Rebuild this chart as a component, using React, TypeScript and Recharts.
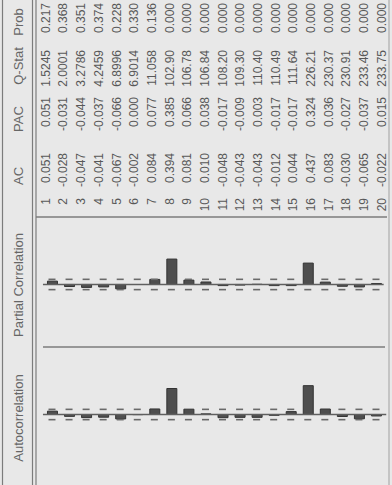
import React from "react";
import { ComposedChart, Bar, Scatter, XAxis, YAxis, ReferenceLine } from "recharts";

const lags = [1, 2, 3, 4, 5, 6, 7, 8, 9, 10, 11, 12, 13, 14, 15, 16, 17, 18, 19, 20];
const acValues = [0.051, -0.028, -0.047, -0.041, -0.067, -0.002, 0.084, 0.394, 0.081, 0.01, -0.048, -0.043, -0.043, -0.012, 0.044, 0.437, 0.083, -0.03, -0.065, -0.022];
const pacValues = [0.051, -0.031, -0.044, -0.037, -0.066, 0.0, 0.077, 0.385, 0.066, 0.038, -0.017, -0.009, 0.003, -0.017, -0.017, 0.324, 0.036, -0.027, -0.037, 0.015];
const qStats = [1.5245, 2.0001, 3.2786, 4.2459, 6.8996, 6.9014, 11.058, 102.9, 106.78, 106.84, 108.2, 109.3, 110.4, 110.49, 111.64, 226.21, 230.37, 230.91, 233.46, 233.75];
const probs = [0.217, 0.368, 0.351, 0.374, 0.228, 0.33, 0.136, 0, 0, 0, 0, 0, 0, 0, 0, 0, 0, 0, 0, 0];
const headers = ["Prob", "Q-Stat", "PAC", "AC", "Partial Correlation", "Autocorrelation"];

// approx 2/sqrt(T) band
const BAND = 0.078;

const rows = lags.map((lag, i) => ({ lag, ac: acValues[i], pac: pacValues[i], up: BAND, lo: -BAND }));

const W = 392;
const H = 485;
const BG = "#e8e8e8";
const TEXT = "#585858";
const LINE = "#7c7c7c";
const BAR = "#4e4e4e";
const FONT = '"Liberation Sans", Arial, sans-serif';

// where each rotated column ends (top edge, text is right aligned)
const colEnd = { lag: 198, ac: 153, pac: 97, q: 50, prob: 3 };
// header centres, same order as headers
const headerY = [22, 66, 119, 176, 285, 418];

function RotText({ x, y, children, anchor = "end", size = 12, fill = TEXT }: any) {
  return (
    <text
      x={x}
      y={y}
      transform={`rotate(-90 ${x} ${y})`}
      textAnchor={anchor}
      fontSize={size}
      fill={fill}
      fontFamily={FONT}
    >
      {children}
    </text>
  );
}

function TableTick(props: any) {
  const { x, payload } = props;
  const i = lags.indexOf(payload.value);
  if (i < 0) return <g />;
  const bx = x + 4.3;
  return (
    <g>
      <RotText x={bx} y={colEnd.lag}>{lags[i]}</RotText>
      <RotText x={bx} y={colEnd.ac}>{acValues[i].toFixed(3)}</RotText>
      <RotText x={bx} y={colEnd.pac}>{pacValues[i].toFixed(3)}</RotText>
      <RotText x={bx} y={colEnd.q}>{qStats[i].toPrecision(5)}</RotText>
      <RotText x={bx} y={colEnd.prob}>{probs[i].toFixed(3)}</RotText>
    </g>
  );
}

// short dash of the confidence band, hidden where the bar covers it
const makeDash = (key: "ac" | "pac", sign: number) => (props: any) => {
  const { cx, cy, payload } = props;
  const v = payload[key];
  if ((sign > 0 && v >= BAND) || (sign < 0 && v <= -BAND)) return <g />;
  return <line x1={cx - 3.5} x2={cx + 3.5} y1={cy} y2={cy} stroke="#6a6a6a" strokeWidth={1.6} />;
};

export default function App() {
  return (
    <div style={{ position: "absolute", left: 0, top: 0, width: W, height: H, background: BG, overflow: "hidden" }}>
      <ComposedChart width={W} height={H} data={rows} margin={{ top: 0, right: 0, bottom: 0, left: 0 }}>
        <XAxis
          xAxisId="table"
          dataKey="lag"
          type="number"
          domain={[1, 20]}
          ticks={lags}
          interval={0}
          orientation="top"
          height={1}
          padding={{ left: 45.5, right: 10.5 }}
          axisLine={false}
          tickLine={false}
          tick={TableTick}
        />
        <XAxis xAxisId="barsA" dataKey="lag" type="number" domain={[1, 20]} padding={{ left: 52, right: 16 }} hide />
        <XAxis xAxisId="barsP" dataKey="lag" type="number" domain={[1, 20]} padding={{ left: 52, right: 16 }} hide />
        <YAxis yAxisId="ac" type="number" domain={[-1.068, 6.265]} allowDataOverflow hide />
        <YAxis yAxisId="pac" type="number" domain={[-3.038, 4.295]} allowDataOverflow hide />

        {/* invisible series so the table axis has something to measure */}
        <Scatter xAxisId="table" yAxisId="pac" dataKey="pac" shape={() => <g />} isAnimationActive={false} />

        <ReferenceLine
          xAxisId="barsA"
          yAxisId="ac"
          segment={[{ x: 0.47, y: 0 }, { x: 20.6, y: 0 }]}
          ifOverflow="visible"
          stroke="#5f5f5f"
          strokeWidth={1.6}
        />
        <ReferenceLine
          xAxisId="barsP"
          yAxisId="pac"
          segment={[{ x: 0.47, y: 0 }, { x: 20.45, y: 0 }]}
          ifOverflow="visible"
          stroke="#5f5f5f"
          strokeWidth={1.6}
        />

        <Scatter xAxisId="barsA" yAxisId="ac" dataKey="up" shape={makeDash("ac", 1)} isAnimationActive={false} />
        <Scatter xAxisId="barsA" yAxisId="ac" dataKey="lo" shape={makeDash("ac", -1)} isAnimationActive={false} />
        <Scatter xAxisId="barsP" yAxisId="pac" dataKey="up" shape={makeDash("pac", 1)} isAnimationActive={false} />
        <Scatter xAxisId="barsP" yAxisId="pac" dataKey="lo" shape={makeDash("pac", -1)} isAnimationActive={false} />

        <Bar xAxisId="barsA" yAxisId="ac" dataKey="ac" barSize={10} fill={BAR} stroke="#333" strokeWidth={1} isAnimationActive={false} />
        <Bar xAxisId="barsP" yAxisId="pac" dataKey="pac" barSize={10} fill={BAR} stroke="#333" strokeWidth={1} isAnimationActive={false} />
      </ComposedChart>

      {/* frame lines and column headers */}
      <svg width={W} height={H} style={{ position: "absolute", left: 0, top: 0, pointerEvents: "none" }}>
        <line x1={2.5} x2={2.5} y1={0} y2={H} stroke={LINE} strokeWidth={1.2} />
        <line x1={32.5} x2={32.5} y1={0} y2={H} stroke={LINE} strokeWidth={1.2} />
        <line x1={36} x2={36} y1={0} y2={H} stroke={LINE} strokeWidth={1.2} />
        <line x1={389} x2={389} y1={0} y2={H} stroke="#a0a0a0" strokeWidth={1} />
        <line x1={36} x2={387} y1={217} y2={217} stroke={LINE} strokeWidth={1.5} />
        <line x1={43} x2={385} y1={347} y2={347} stroke={LINE} strokeWidth={1.5} />
        {headers.map((h, i) => (
          <RotText key={h} x={22.5} y={headerY[i]} anchor="middle" size={13} fill="#666">
            {h}
          </RotText>
        ))}
      </svg>
    </div>
  );
}
